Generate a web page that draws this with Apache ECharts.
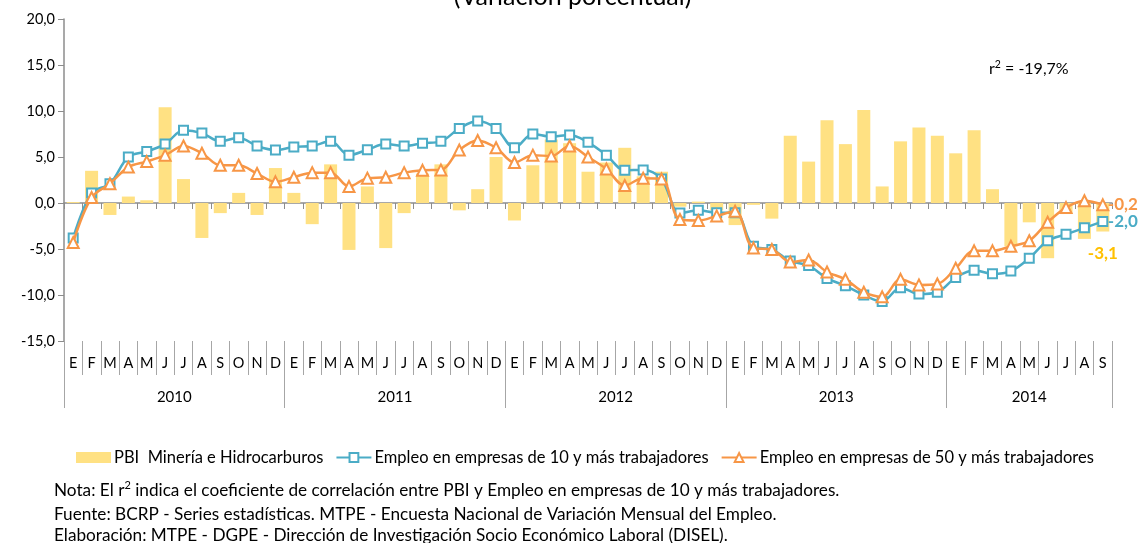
<!DOCTYPE html>
<html>
<head>
<meta charset="utf-8">
<script src="https://cdn.jsdelivr.net/npm/echarts@6/dist/echarts.min.js"></script>
<style>
html,body{margin:0;padding:0;background:#fff;}
#chart{width:1145px;height:543px;}
</style>
</head>
<body>
<div id="chart"></div>
<script>
// ---- data ----
const monthLetters = ['E','F','M','A','M','J','J','A','S','O','N','D'];
const years = ['2010','2011','2012','2013','2014'];
const yTicks = [-15, -10, -5, 0, 5, 10, 15, 20];

const pbiMineria = [0.1, 3.5, -1.3, 0.7, 0.3, 10.4, 2.6, -3.8, -1.1, 1.1, -1.3, 3.8,
  1.1, -2.3, 4.2, -5.1, 1.8, -4.9, -1.1, 3.2, 4.2, -0.8, 1.5, 5.0,
  -1.9, 4.1, 6.9, 6.5, 3.4, 4.4, 6.0, 2.9, 3.4, -0.4, 0.15, -0.8,
  -2.4, -0.2, -1.7, 7.3, 4.5, 9.0, 6.4, 10.1, 1.8, 6.7, 8.2, 7.3,
  5.4, 7.9, 1.5, -4.7, -2.1, -6.0, -1.2, -3.9, -3.1];

const empleo10 = [-3.8, 1.1, 2.1, 5.0, 5.6, 6.4, 7.9, 7.6, 6.7, 7.1, 6.2, 5.75,
  6.1, 6.2, 6.7, 5.2, 5.8, 6.4, 6.2, 6.5, 6.7, 8.1, 8.9, 8.1,
  6.0, 7.5, 7.2, 7.4, 6.6, 5.2, 3.55, 3.6, 2.6, -1.1, -0.8, -1.05,
  -1.05, -4.7, -5.05, -6.3, -6.8, -8.2, -9.0, -10.0, -10.7, -9.2, -9.9, -9.7,
  -8.1, -7.3, -7.7, -7.4, -6.0, -4.1, -3.4, -2.7, -2.0];

const empleo50 = [-4.3, 0.6, 2.1, 3.9, 4.5, 5.2, 6.2, 5.4, 4.1, 4.1, 3.2, 2.3,
  2.8, 3.3, 3.3, 1.8, 2.7, 2.8, 3.3, 3.55, 3.6, 5.75, 6.8, 6.0,
  4.4, 5.2, 5.1, 6.2, 5.0, 3.7, 1.9, 2.7, 2.6, -1.8, -1.9, -1.4,
  -0.9, -4.9, -5.05, -6.4, -6.2, -7.5, -8.3, -9.7, -10.2, -8.3, -8.9, -8.8,
  -7.1, -5.2, -5.2, -4.7, -4.1, -2.1, -0.5, 0.25, -0.2];

const seriesNames = ['PBI  Minería e Hidrocarburos',
  'Empleo en empresas de 10 y más trabajadores',
  'Empleo en empresas de 50 y más trabajadores'];
const titleText = '(Variación porcentual)';
const r2Text = ['r', '2', ' = -19,7%'];
const notes = [
  ['Nota: El r', '2', ' indica el coeficiente de correlación entre PBI y Empleo en empresas de 10 y más trabajadores.'],
  ['Fuente: BCRP - Series estadísticas. MTPE - Encuesta Nacional de Variación Mensual del Empleo.'],
  ['Elaboración: MTPE - DGPE - Dirección de Investigación Socio Económico Laboral (DISEL).']
];

// ---- derived categories ----
const n = pbiMineria.length;
const monthCats = [];
const yearCats = [];
for (let i = 0; i < n; i++) {
  monthCats.push(monthLetters[i % 12]);
  yearCats.push(years[Math.floor(i / 12)]);
}
const yearLabelIdx = {};
years.forEach((y, k) => {
  const start = k * 12;
  const cnt = Math.min(12, n - start);
  if (cnt % 2 === 0) yearLabelIdx[start + cnt / 2] = 'shift';
  else yearLabelIdx[start + (cnt - 1) / 2] = 'center';
});

const FONT = 'Lato, "Open Sans", sans-serif';
const fmt = v => Number(v).toFixed(1).replace('.', ',');
const GRID = {left: 64, right: 33, top: 19, bottom: 202};
const band = (1145 - GRID.left - GRID.right) / n;

const chart = echarts.init(document.getElementById('chart'), null, {renderer: 'canvas'});

const barData = pbiMineria.map((v, i) => i === n - 1 ? {
  value: v,
  label: {show: true, position: 'bottom', distance: 13, formatter: p => fmt(p.value),
    color: '#FFC000', fontWeight: 'bold', fontSize: 17, fontFamily: FONT}
} : v);

const option = {
  backgroundColor: '#fff',
  animation: false,
  title: {
    text: titleText, left: 'center', top: -21,
    textStyle: {fontSize: 25, fontWeight: 'normal', color: '#000', fontFamily: FONT}
  },
  grid: GRID,
  legend: {
    left: 71, top: 444, itemWidth: 35, itemHeight: 11, itemGap: 12,
    textStyle: {fontSize: 16.5, color: '#000', fontFamily: FONT, padding: [0, 0, 0, -2]},
    data: [{name: seriesNames[0], icon: 'rect'}, {name: seriesNames[1]}, {name: seriesNames[2]}]
  },
  xAxis: [
    {
      type: 'category', data: monthCats, position: 'bottom', boundaryGap: true,
      axisLine: {onZero: true, lineStyle: {color: '#8c8c8c', width: 1.5}},
      axisTick: {show: true, interval: 0, length: 6, lineStyle: {color: '#8c8c8c'}},
      axisLabel: {show: false}, splitLine: {show: false}
    },
    {
      type: 'category', data: monthCats, position: 'bottom', boundaryGap: true,
      axisLine: {show: false, onZero: false},
      axisTick: {show: true, interval: 0, length: 34, lineStyle: {color: '#a6a6a6'}},
      axisLabel: {interval: 0, margin: 15, fontSize: 14.5, color: '#000', fontFamily: FONT}
    },
    {
      type: 'category', data: yearCats, position: 'bottom', boundaryGap: true,
      axisLine: {show: false, onZero: false},
      axisTick: {show: true, interval: i => i % 12 === 0, length: 67, lineStyle: {color: '#a6a6a6'}},
      axisLabel: {
        margin: 49, fontSize: 15, color: '#000', fontFamily: FONT,
        interval: i => yearLabelIdx[i] !== undefined,
        formatter: (v, i) => yearLabelIdx[i] === 'shift' ? '{s|' + v + '}' : '{c|' + v + '}',
        rich: {
          s: {padding: [0, band, 0, 0], fontSize: 15, color: '#000', fontFamily: FONT},
          c: {fontSize: 15, color: '#000', fontFamily: FONT}
        }
      }
    }
  ],
  yAxis: {
    type: 'value', min: yTicks[0], max: yTicks[yTicks.length - 1], interval: 5,
    axisLine: {show: true, lineStyle: {color: '#8c8c8c', width: 1.5}},
    axisTick: {show: true, length: 6, lineStyle: {color: '#8c8c8c'}},
    axisLabel: {formatter: v => fmt(v), fontSize: 14.5, color: '#000', margin: 9, fontFamily: FONT},
    splitLine: {show: false}
  },
  series: [
    {
      name: seriesNames[0], type: 'bar', data: barData, barWidth: 13,
      itemStyle: {color: '#FFE183'}, z: 1
    },
    {
      name: seriesNames[1], type: 'line', data: empleo10, smooth: 0.35,
      symbol: 'emptyRect', symbolSize: 9, showAllSymbol: true,
      lineStyle: {color: '#4BACC6', width: 2.5},
      itemStyle: {color: '#4BACC6', borderWidth: 1.5},
      endLabel: {show: true, distance: 5, formatter: p => fmt(p.value),
        color: '#4BACC6', fontWeight: 'bold', fontSize: 17, fontFamily: FONT},
      z: 3
    },
    {
      name: seriesNames[2], type: 'line', data: empleo50, smooth: 0.35,
      symbol: 'emptyTriangle', symbolSize: 11, showAllSymbol: true,
      lineStyle: {color: '#F79646', width: 2.5},
      itemStyle: {color: '#F79646', borderWidth: 1.5},
      endLabel: {show: true, distance: 5, formatter: p => fmt(p.value),
        color: '#F79646', fontWeight: 'bold', fontSize: 17, fontFamily: FONT},
      z: 4
    }
  ],
  graphic: [
    {
      type: 'text', left: 989, top: 59,
      style: {
        text: '{b|' + r2Text[0] + '}{sup|' + r2Text[1] + '}{b|' + r2Text[2] + '}',
        rich: {
          b: {fontSize: 16, fill: '#000', fontFamily: FONT, verticalAlign: 'bottom'},
          sup: {fontSize: 10.5, fill: '#000', fontFamily: FONT, verticalAlign: 'top', padding: [0,0,7,0]}
        }
      }
    }
  ].concat(notes.map((parts, k) => ({
    type: 'text', left: 54, top: [480, 506, 527][k],
    style: {
      text: parts.length === 3 ? '{b|' + parts[0] + '}{sup|' + parts[1] + '}{b|' + parts[2] + '}' : '{b|' + parts[0] + '}',
      rich: {
        b: {fontSize: 17.2, fill: '#000', fontFamily: FONT, verticalAlign: 'bottom'},
        sup: {fontSize: 11, fill: '#000', fontFamily: FONT, verticalAlign: 'top', padding: [0,0,8,0]}
      }
    }
  })))
};

chart.setOption(option);
</script>
</body>
</html>
